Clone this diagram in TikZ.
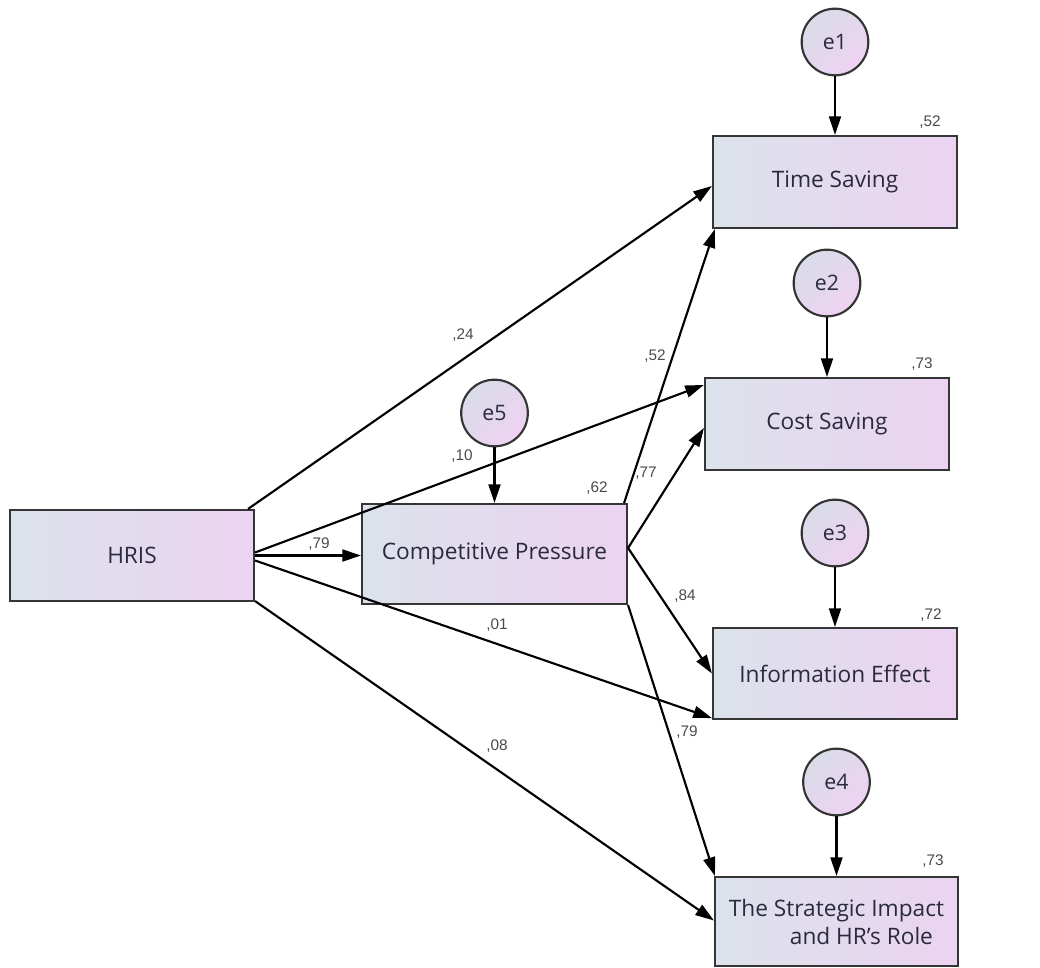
\documentclass[tikz,border=0pt]{standalone}
\usepackage{fontspec}
\setmainfont{Open Sans}
\newfontfamily\coeffont{Liberation Sans}
\usetikzlibrary{arrows.meta,calc}

\definecolor{boxleft}{HTML}{DCE2EB}
\definecolor{boxright}{HTML}{EBD3F1}
\definecolor{errleft}{HTML}{D9DCE8}
\definecolor{errright}{HTML}{EED2F2}
\definecolor{frame}{HTML}{353535}
\definecolor{inkdark}{HTML}{2A2A3E}
\definecolor{coefgray}{HTML}{4A4A4A}

\begin{document}
\begin{tikzpicture}[x=0.75pt,y=-0.75pt,
  var/.style={draw=frame, line width=1.6pt, left color=boxleft, right color=boxright,
    text=inkdark, font=\fontsize{17}{21}\selectfont, inner sep=0pt, align=center},
  err/.style={circle, draw=frame, line width=1.6pt, minimum size=50pt, inner sep=0pt,
    left color=errleft, right color=errright, shading angle=45,
    text=inkdark, font=\fontsize{16}{19}\selectfont},
  path/.style={draw=black, line width=1.6pt, -{Triangle[length=14pt,width=9pt]}},
  coef/.style={font=\coeffont\fontsize{11.5}{13}\selectfont, text=coefgray, inner sep=0pt}]

\useasboundingbox (0,0) rectangle (1040,968);

% observed variables
\node[var, minimum width=183pt, minimum height=68.25pt] (hris) at (132,555.5) {HRIS};
\node[var, minimum width=198.75pt, minimum height=75pt] (cp) at (494.5,554) {Competitive Pressure};
\node[var, minimum width=183pt, minimum height=69pt] (ts) at (835,182) {Time Saving};
\node[var, minimum width=183pt, minimum height=69pt] (cs) at (827,424) {Cost Saving};
\node[var, minimum width=183pt, minimum height=68.25pt] (ie) at (835,673.5) {Information Effect};
\node[var, minimum width=182.25pt, minimum height=66.75pt] (si) at (836.5,921.5)
  {The Strategic Impact\\\hspace*{2.2em}and HR's Role};

% error terms
\node[err] (e1) at (835,42) {e1};
\node[err] (e2) at (827,283) {e2};
\node[err] (e3) at (835,533) {e3};
\node[err] (e4) at (836.5,782) {e4};
\node[err] (e5) at (494.5,413) {e5};

% residual paths
\draw[path] (e1) -- (ts);
\draw[path] (e2) -- (cs);
\draw[path] (e3) -- (ie);
\draw[path] (e4) -- (si);
\draw[path] (e5) -- (cp);

% structural paths from HRIS
\draw[path] ($(hris.north east)+(-7,0)$) -- ($(ts.west)+(0,4)$);
\draw[path] ($(hris.east)+(0,-3)$) -- ($(cs.north west)+(0,8)$);
\draw[path] (hris.east) -- (hris.east -| cp.west);
\draw[path] ($(hris.east)+(0,5)$) -- ($(ie.south west)+(0,-2)$);
\draw[path] ($(hris.south east)+(0,-1)$) -- ($(si.west)+(0,-1)$);

% structural paths from Competitive Pressure
\draw[path] ($(cp.north east)+(-4,0)$) -- ($(ts.south west)+(3,0)$);
\draw[path] ($(cp.east)+(0,-6)$) -- ($(cs.west)+(0,4)$);
\draw[path] ($(cp.east)+(0,-6)$) -- (ie.west);
\draw[path] (cp.south east) -- ($(si.north west)+(1,0)$);

% standardized estimates
\node[coef] (c24) at (463,335) {,24};
\node[coef] (c10) at (462,456) {,10};
\node[coef] (c79a) at (319,544) {,79};
\node[coef] (c01) at (497,625) {,01};
\node[coef] (c08) at (497,746) {,08};
\node[coef] (c52a) at (655,356) {,52};
\node[coef] (c77) at (646,473) {,77};
\node[coef] (c84) at (685,596) {,84};
\node[coef] (c79b) at (687,732) {,79};

% squared multiple correlations
\node[coef] (r62) at (597,488) {,62};
\node[coef] (r52) at (930,122) {,52};
\node[coef] (r73a) at (922,364) {,73};
\node[coef] (r72) at (931,615) {,72};
\node[coef] (r73b) at (933,861) {,73};
\end{tikzpicture}
\end{document}
